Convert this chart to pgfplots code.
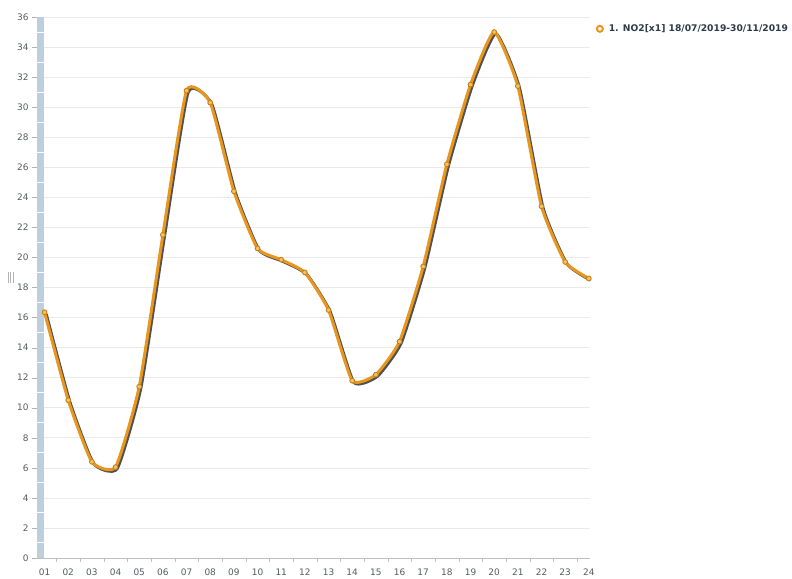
\documentclass[border=0pt]{standalone}
\usepackage{pgfplots}
\pgfplotsset{compat=1.18}
\usepackage{fontspec}
\setmainfont{DejaVu Sans}
\definecolor{lineorange}{HTML}{E8961E}
\definecolor{markfill}{HTML}{F6C25E}
\definecolor{barblue}{HTML}{BFCEDD}
\definecolor{ticktext}{HTML}{555B60}
\definecolor{legtext}{HTML}{2E3B48}
\definecolor{gridc}{HTML}{EAEAEA}
\pgfplotstableread{
x y
1 16.35
2 10.5
3 6.4
4 6.05
5 11.4
6 21.5
7 31.1
8 30.3
9 24.4
10 20.6
11 19.85
12 19.0
13 16.5
14 11.8
15 12.2
16 14.4
17 19.4
18 26.2
19 31.5
20 35.0
21 31.4
22 23.4
23 19.7
24 18.6
}\datatable
\begin{document}
\begin{tikzpicture}[x=1bp,y=1bp]
\path[use as bounding box] (0,0) rectangle (792,579);
\draw[gray!60, line width=0.8bp] (8,296) -- (8,307) (10.5,296) -- (10.5,307) (13,296) -- (13,307);
\begin{axis}[
  at={(37bp,21bp)}, anchor=south west,
  scale only axis, width=553bp, height=541bp,
  xmin=0.68, xmax=24.05, ymin=0, ymax=36,
  axis x line*=bottom, axis y line*=left,
  axis line style={gray!50, line width=0.6bp},
  xtick={1,...,24},
  xticklabels={01,02,03,04,05,06,07,08,09,10,11,12,13,14,15,16,17,18,19,20,21,22,23,24},
  major x tick style={draw=none},
  minor xtick={1.5,2.5,...,23.5},
  minor x tick style={gray!50},
  minor tick length=4bp,
  ytick={0,2,...,36},
  y tick style={gray!60},
  major tick length=5bp,
  tick align=outside,
  ymajorgrids, grid style={gridc, line width=0.6bp},
  ticklabel style={font=\fontsize{9}{10}\selectfont, text=ticktext},
  xticklabel style={yshift=-2bp},
  /pgf/number format/assume math mode=true,
  clip=false,
  legend style={at={(axis description cs:1.012,0.99)}, anchor=north west, draw=none, fill=none,
    font=\bfseries\fontsize{9.2}{11}\selectfont, text=legtext, inner sep=0pt,
    /tikz/every odd column/.append style={column sep=4bp}},
  legend cell align=left,
]
\fill[barblue] (axis cs:0.68,0) rectangle (axis cs:0.99,36);
\pgfplotsinvokeforeach{1,3,...,35}{
  \draw[white, line width=1bp] (axis cs:0.68,#1) -- (axis cs:0.99,#1);
}
\addlegendimage{only marks, mark=o, mark size=3bp, lineorange, line width=2bp}
\addlegendentry{1. NO2[x1] 18/07/2019-30/11/2019}
\addplot[forget plot, smooth, tension=0.3, black!85, opacity=0.8, line width=3bp, xshift=1.6bp, yshift=-1.6bp] table[x=x,y=y] {\datatable};
\addplot[forget plot, smooth, tension=0.3, lineorange, line width=3bp, mark=*, mark size=2.4bp,
  mark options={fill=markfill, draw=lineorange!85!black, line width=0.9bp}] table[x=x,y=y] {\datatable};
\end{axis}
\end{tikzpicture}
\end{document}
